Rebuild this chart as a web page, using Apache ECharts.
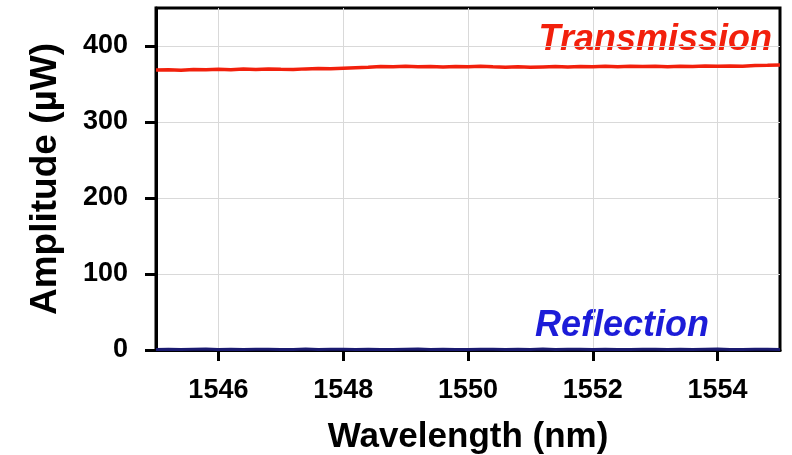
<!DOCTYPE html>
<html>
<head>
<meta charset="utf-8">
<script src="https://cdn.jsdelivr.net/npm/echarts@6/dist/echarts.min.js"></script>
<style>
  html, body { margin: 0; padding: 0; background: #fff; }
  #chart { width: 792px; height: 455px; }
</style>
</head>
<body>
<div id="chart"></div>
<script>
// Wavelength samples (nm), every 0.2 nm across the sweep
const wavelengths = [
  1545.0, 1545.2, 1545.4, 1545.6, 1545.8, 1546.0, 1546.2, 1546.4, 1546.6, 1546.8,
  1547.0, 1547.2, 1547.4, 1547.6, 1547.8, 1548.0, 1548.2, 1548.4, 1548.6, 1548.8,
  1549.0, 1549.2, 1549.4, 1549.6, 1549.8, 1550.0, 1550.2, 1550.4, 1550.6, 1550.8,
  1551.0, 1551.2, 1551.4, 1551.6, 1551.8, 1552.0, 1552.2, 1552.4, 1552.6, 1552.8,
  1553.0, 1553.2, 1553.4, 1553.6, 1553.8, 1554.0, 1554.2, 1554.4, 1554.6, 1554.8,
  1555.0
];

// Transmitted power (µW)
const transmission = [
  368.4, 368.9, 368.2, 369.0, 368.6, 369.3, 368.9, 369.6, 369.1, 369.8,
  369.4, 369.1, 369.9, 370.4, 370.0, 370.8, 371.5, 372.2, 373.0, 372.6,
  373.2, 372.7, 373.1, 372.5, 373.0, 372.8, 373.3, 372.6, 372.1, 372.7,
  371.9, 372.4, 372.9, 372.3, 373.0, 372.6, 373.2, 372.7, 373.4, 372.9,
  373.3, 372.8, 373.5, 373.0, 373.6, 373.2, 373.8, 373.4, 374.2, 374.6,
  375.1
];

// Reflected power (µW)
const reflection = [
  0.8, 1.1, 0.6, 0.9, 1.2, 0.7, 1.0, 0.5, 0.9, 1.1,
  0.6, 0.8, 1.2, 0.7, 0.9, 1.0, 0.6, 1.1, 0.8, 0.5,
  0.9, 1.2, 0.7, 1.0, 0.8, 0.6, 1.1, 0.9, 0.7, 1.0,
  0.8, 1.2, 0.6, 0.9, 1.1, 0.7, 1.0, 0.8, 0.5, 0.9,
  1.1, 0.7, 1.0, 0.6, 0.9, 1.2, 0.8, 0.6, 1.0, 0.9,
  0.8
];

const xTicks = [1546, 1548, 1550, 1552, 1554];
const yTicks = [0, 100, 200, 300, 400];

const pair = (xs, ys) => xs.map((x, i) => [x, ys[i]]);

const FONT = '"Liberation Sans", Arial, Helvetica, sans-serif';
const RED = '#f2200c';
const BLUE = '#1c1cd8';

const chart = echarts.init(document.getElementById('chart'), null, { renderer: 'canvas' });

chart.setOption({
  animation: false,
  backgroundColor: '#ffffff',
  grid: {
    left: 156, right: 12, top: 8, bottom: 105,
    outerBoundsMode: 'none',
    containLabel: false,
    show: true, borderColor: '#000', borderWidth: 3, backgroundColor: 'transparent'
  },
  xAxis: {
    type: 'value',
    min: 1545, max: 1555,
    name: 'Wavelength (nm)',
    nameLocation: 'middle',
    nameGap: 70,
    nameTextStyle: { fontFamily: FONT, fontWeight: 'bold', fontSize: 35, color: '#000' },
    axisLine: { show: true, onZero: false, lineStyle: { color: '#000', width: 3 } },
    axisTick: { show: true, inside: false, length: 11, customValues: xTicks, lineStyle: { color: '#000', width: 3 } },
    axisLabel: {
      customValues: xTicks, margin: 27,
      formatter: (v) => String(v),
      fontFamily: FONT, fontWeight: 'bold', fontSize: 27, color: '#000'
    },
    splitLine: { show: true, lineStyle: { color: '#d9d9d9', width: 1 } }
  },
  yAxis: {
    type: 'value',
    min: 0, max: 450,
    name: 'Amplitude (µW)',
    nameLocation: 'middle',
    nameGap: 92,
    nameTextStyle: { fontFamily: FONT, fontWeight: 'bold', fontSize: 37, color: '#000' },
    axisLine: { show: true, lineStyle: { color: '#000', width: 3 } },
    axisTick: { show: true, inside: false, length: 11, customValues: yTicks, lineStyle: { color: '#000', width: 3 } },
    axisLabel: {
      customValues: yTicks, margin: 28,
      formatter: (v) => String(v),
      fontFamily: FONT, fontWeight: 'bold', fontSize: 27, color: '#000'
    },
    splitLine: { show: true, lineStyle: { color: '#d9d9d9', width: 1 } }
  },
  series: [
    {
      name: 'Transmission',
      type: 'line',
      data: pair(wavelengths, transmission),
      showSymbol: false,
      lineStyle: { color: RED, width: 3.5 },
      z: 3
    },
    {
      name: 'Reflection',
      type: 'line',
      data: pair(wavelengths, reflection),
      showSymbol: false,
      lineStyle: { color: '#1a1a70', width: 3 },
      z: 3
    }
  ],
  graphic: [
    {
      type: 'text',
      right: 20, top: 22,
      style: {
        text: 'Transmission',
        fill: RED,
        font: 'italic bold 36px ' + FONT
      }
    },
    {
      type: 'text',
      right: 83, top: 308,
      style: {
        text: 'Reflection',
        fill: BLUE,
        font: 'italic bold 36px ' + FONT
      }
    }
  ]
});
</script>
</body>
</html>
